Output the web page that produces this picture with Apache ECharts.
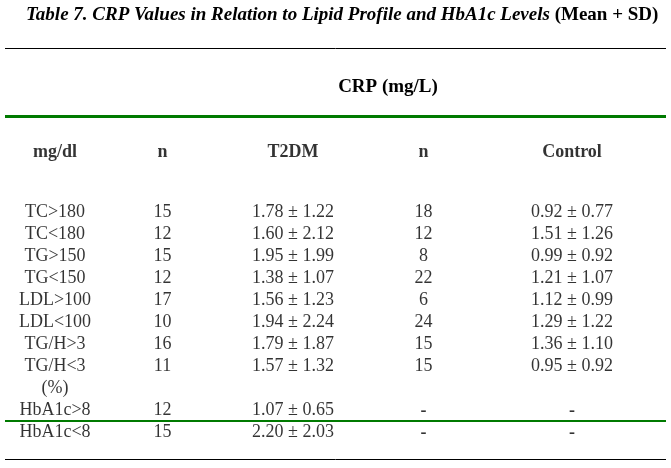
<!DOCTYPE html>
<html>
<head>
<meta charset="utf-8">
<script src="https://cdn.jsdelivr.net/npm/echarts@6/dist/echarts.min.js"></script>
<style>
html,body{margin:0;padding:0;background:#fff;}
#chart{width:671px;height:468px;}
</style>
</head>
<body>
<div id="chart"></div>
<script>
// ---- data ----
var headers = ["mg/dl", "n", "T2DM", "n", "Control"];
var rowLabels = ["TC>180", "TC<180", "TG>150", "TG<150", "LDL>100", "LDL<100", "TG/H>3", "TG/H<3", "(%)", "HbA1c>8", "HbA1c<8"];
var nT2DM = [15, 12, 15, 12, 17, 10, 16, 11, null, 12, 15];
var t2dmMean = [1.78, 1.60, 1.95, 1.38, 1.56, 1.94, 1.79, 1.57, null, 1.07, 2.20];
var t2dmSD = [1.22, 2.12, 1.99, 1.07, 1.23, 2.24, 1.87, 1.32, null, 0.65, 2.03];
var nControl = [18, 12, 8, 22, 6, 24, 15, 15, null, "-", "-"];
var controlMean = [0.92, 1.51, 0.99, 1.21, 1.12, 1.29, 1.36, 0.95, null, "-", "-"];
var controlSD = [0.77, 1.26, 0.92, 1.07, 0.99, 1.22, 1.10, 0.92, null, "-", "-"];
var titleMain = "Table 7. CRP Values in Relation to Lipid Profile and HbA1c Levels";
var titleTail = " (Mean + SD)";
var spanHeader = "CRP (mg/L)";

// ---- formatting helpers ----
function fmtMeanSD(m, s) {
  if (m === null || m === undefined) return "";
  if (typeof m === "string") return "{d|" + m + "}";
  return m.toFixed(2) + " \u00B1 " + s.toFixed(2);
}
function fmtN(v) {
  if (v === null || v === undefined) return "";
  if (typeof v === "string") return "{d|" + v + "}";
  return String(v);
}
function cellText(col, r) {
  switch (col) {
    case 0: return rowLabels[r];
    case 1: return fmtN(nT2DM[r]);
    case 2: return fmtMeanSD(t2dmMean[r], t2dmSD[r]);
    case 3: return fmtN(nControl[r]);
    case 4: return fmtMeanSD(controlMean[r], controlSD[r]);
  }
  return "";
}

// ---- styles ----
var FONT = "'Liberation Serif', 'Times New Roman', serif";
var colOffsets = [13, -9, -8, -7, 12];
var GREEN = "#007a00";

var series = [];
headers.forEach(function (h, k) {
  series.push({
    type: "scatter",
    xAxisIndex: 0, yAxisIndex: 0,
    symbolSize: 1,
    itemStyle: { color: "transparent" },
    silent: true,
    data: [[k, 0]],
    label: {
      show: true, position: "inside", offset: [colOffsets[k], 0],
      formatter: function () { return headers[k]; },
      fontFamily: FONT, fontSize: 18, fontWeight: "bold", color: "#000"
    }
  });
  series.push({
    type: "scatter",
    xAxisIndex: 1, yAxisIndex: 1,
    symbolSize: 1,
    itemStyle: { color: "transparent" },
    silent: true,
    data: rowLabels.map(function (_, r) { return [k, r]; }),
    label: {
      show: true, position: "inside", offset: [colOffsets[k], 0],
      formatter: function (p) { return cellText(k, p.dataIndex); },
      fontFamily: FONT, fontSize: 18, color: "#000",
      rich: {
        d: { fontFamily: FONT, fontSize: 18, fontWeight: "bold", color: "#000", padding: [3, 0, 0, 0] }
      }
    }
  });
});

var colIdx = headers.map(function (_, i) { return i; });

var option = {
  animation: false,
  backgroundColor: "#fff",
  title: [{
    left: 21, top: 1,
    text: "{i|" + titleMain + "}{b|" + titleTail + "}",
    textStyle: {
      rich: {
        i: { fontFamily: FONT, fontSize: 19, fontWeight: "bold", fontStyle: "italic", color: "#000" },
        b: { fontFamily: FONT, fontSize: 19, fontWeight: "bold", color: "#000" }
      }
    }
  }, {
    left: 383, top: 73, textAlign: "center",
    text: spanHeader,
    textStyle: { fontFamily: FONT, fontSize: 19, fontWeight: "bold", color: "#000" }
  }],
  grid: [
    { left: 42, right: 111, top: 141, height: 22 },
    { left: 42, right: 111, top: 201, height: 242 }
  ],
  xAxis: [
    { gridIndex: 0, type: "category", data: colIdx, boundaryGap: false, show: false },
    { gridIndex: 1, type: "category", data: colIdx, boundaryGap: false, show: false }
  ],
  yAxis: [
    { gridIndex: 0, type: "category", data: ["header"], inverse: true, show: false },
    { gridIndex: 1, type: "category", data: rowLabels, inverse: true, show: false }
  ],
  graphic: [
    { type: "line", shape: { x1: 5, y1: 48.5, x2: 666, y2: 48.5 }, style: { stroke: "#000", lineWidth: 1 } },
    { type: "line", shape: { x1: 5, y1: 116.5, x2: 666, y2: 116.5 }, style: { stroke: GREEN, lineWidth: 3 } },
    { type: "line", shape: { x1: 5, y1: 421, x2: 666, y2: 421 }, style: { stroke: GREEN, lineWidth: 2 } },
    { type: "line", shape: { x1: 5, y1: 459.5, x2: 666, y2: 459.5 }, style: { stroke: "#000", lineWidth: 1 } }
  ],
  series: series
};

var chart = echarts.init(document.getElementById("chart"), null, { renderer: "canvas" });
chart.setOption(option);
</script>
</body>
</html>
